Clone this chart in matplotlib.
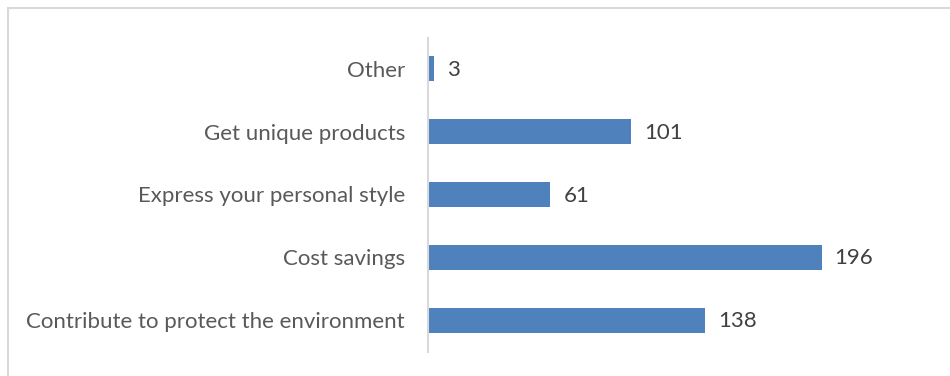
import matplotlib
matplotlib.use("Agg")
import matplotlib.pyplot as plt
from matplotlib.patches import Rectangle

categories = [
    "Contribute to protect the environment",
    "Cost savings",
    "Express your personal style",
    "Get unique products",
    "Other",
]
values = [138, 196, 61, 101, 3]

W, H = 950, 376
fig = plt.figure(figsize=(W / 100, H / 100), dpi=100)
fig.patch.set_facecolor("white")

# chart frame (top and left edges visible)
fig.patches.append(Rectangle((8 / W, -0.1), 1.2, (H - 7.5) / H + 0.1,
                             transform=fig.transFigure, fill=False,
                             edgecolor="#d9d9d9", linewidth=1.5))

ax = fig.add_axes([428 / W, (H - 351.5) / H, 512 / W, 314 / H])
ypos = list(range(len(categories)))
bars = ax.barh(ypos, values, height=0.4, color="#4f81bd")

ax.set_xlim(0, 255)
ax.set_ylim(-0.5, len(categories) - 0.5)
ax.set_yticks(ypos)
ax.set_yticklabels(categories, fontsize=16, color="#595959", family="Lato")
ax.tick_params(axis="y", length=0, pad=16.5)
ax.set_xticks([])

for s in ["top", "right", "bottom"]:
    ax.spines[s].set_visible(False)
ax.spines["left"].set_color("#d9d9d9")
ax.spines["left"].set_linewidth(1.5)

for y, v in zip(ypos, values):
    ax.annotate(str(v), (v, y), xytext=(13, -1), textcoords="offset pixels",
                va="center", ha="left", fontsize=16, color="#404040",
                family="Lato")

fig.savefig("out.png", dpi=100, facecolor="white")
